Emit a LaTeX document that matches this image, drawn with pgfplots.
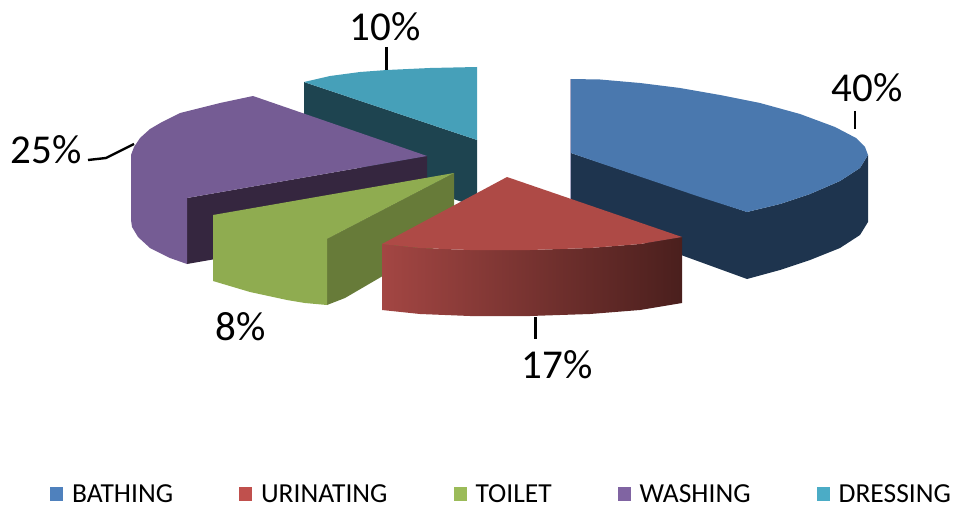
\documentclass[border=0pt]{standalone}
\usepackage{fontspec}
\setmainfont{Carlito}
\usepackage{pgfplots}
\pgfplotsset{compat=1.18}
\definecolor{blueT}{HTML}{4A78AE}
\definecolor{blueS}{HTML}{1E344E}
\definecolor{redT}{HTML}{AE4A46}
\definecolor{redL}{HTML}{A34643}
\definecolor{redR}{HTML}{4A1F1D}
\definecolor{greenT}{HTML}{8FAC50}
\definecolor{greenS}{HTML}{677B39}
\definecolor{purT}{HTML}{755C94}
\definecolor{purS}{HTML}{35263F}
\definecolor{tealT}{HTML}{46A0B9}
\definecolor{tealS}{HTML}{1E4450}
\definecolor{lgB}{RGB}{79,129,189}
\definecolor{lgR}{RGB}{192,80,77}
\definecolor{lgG}{RGB}{155,187,89}
\definecolor{lgP}{RGB}{128,100,162}
\definecolor{lgT}{RGB}{75,172,198}
\begin{document}
\begin{tikzpicture}
\begin{axis}[
  at={(0pt,0pt)}, anchor=south west,
  scale only axis, width=957pt, height=508pt,
  xmin=0, xmax=957, ymin=0, ymax=508, y dir=reverse,
  hide axis, clip=false,
  legend columns=5,
  legend cell align=left,
  legend style={at={(axis cs:501.5,494)}, anchor=center, draw=none, fill=none,
    inner sep=0pt, outer sep=0pt, font=\fontsize{27.5}{30}\selectfont,
    /tikz/every odd column/.append style={column sep=7pt},
    /tikz/every even column/.append style={column sep=64pt}},
  legend image code/.code={\fill[draw=none,#1] (0pt,-7pt) rectangle (13pt,7pt);},
]
% teal
\addplot[fill=tealS,draw=none,forget plot] coordinates {(304,82)(477,140)(477,207)(304,148)} --cycle;
\addplot[fill=tealT,draw=none,forget plot] coordinates {(304,82)(330,76)(360,72)(387,70)(430,68)(477,67)(477,140)} --cycle;
% purple
\addplot[fill=purS,draw=none,forget plot] coordinates {(187,198)(427,156)(427,222)(187,264)} --cycle;
\addplot[fill=purT,draw=none,forget plot] coordinates {(253,96)(427,156)(187,198)(187,264)(170,258)(150,248)(138,237)(132,227)(131,220)(131,155)(134,147)(140,138)(150,129)(162,122)(180,113)(200,108)(220,103)} --cycle;
% green
\addplot[fill=greenS,draw=none,forget plot] coordinates {(454,173)(327,239)(327,305)(345,298)(381,277)(454,237)} --cycle;
\addplot[fill=greenT,draw=none,forget plot] coordinates {(454,173)(327,239)(327,305)(305,303)(287,300)(250,292)(213,281)(213,215)} --cycle;
% blue
\addplot[draw=blue!20!gray!55,line width=1.2pt,forget plot] coordinates {(570.5,79)(570.5,215)};
\addplot[fill=blueS,draw=none,forget plot] coordinates {(571,153)(747,212)(780,204)(810,194)(840,181)(860,168)(868,155)(868,222)(860,235)(840,248)(810,260)(780,270)(747,279)(571,215)} --cycle;
\addplot[fill=blueT,draw=none,forget plot] coordinates {(571,79)(600,79.5)(640,83)(680,88)(720,95)(760,103)(800,114)(835,127)(856,138)(865,147)(868,155)(860,168)(840,181)(810,194)(780,204)(747,212)(700,197)(650,180)(600,163)(571,153)} --cycle;
% red
\addplot[left color=redL,right color=redR,draw=none,forget plot] coordinates {(382,244)(420,248)(470,250)(530,250)(590,248)(640,244)(682,237)(682,303)(640,310)(590,314)(530,316)(470,316)(420,314)(382,310)} --cycle;
\addplot[fill=redT,draw=none,forget plot] coordinates {(507,177)(682,237)(640,244)(590,248)(530,250)(470,250)(420,248)(382,244)} --cycle;
% leader lines
\addplot[black,line width=2.6pt,forget plot] coordinates {(855,111)(855,129)};
\addplot[black,line width=2.6pt,forget plot] coordinates {(535.5,317)(535.5,339)};
\addplot[black,line width=2.6pt,forget plot] coordinates {(386.5,47)(386.5,70)};
\addplot[black,line width=2.4pt,forget plot] coordinates {(88,160)(106,158)(134,144)};
% legend
\addlegendimage{fill=lgB}
\addlegendentry{BATHING}
\addlegendimage{fill=lgR}
\addlegendentry{URINATING}
\addlegendimage{fill=lgG}
\addlegendentry{TOILET}
\addlegendimage{fill=lgP}
\addlegendentry{WASHING}
\addlegendimage{fill=lgT}
\addlegendentry{DRESSING}
% labels
\node[font=\fontsize{41}{44}\selectfont,inner sep=0pt] at (axis cs:867,88) {40\%};
\node[font=\fontsize{41}{44}\selectfont,inner sep=0pt] at (axis cs:557,365) {17\%};
\node[font=\fontsize{41}{44}\selectfont,inner sep=0pt] at (axis cs:241,327) {8\%};
\node[font=\fontsize{41}{44}\selectfont,inner sep=0pt] at (axis cs:46,150) {25\%};
\node[font=\fontsize{41}{44}\selectfont,inner sep=0pt] at (axis cs:385,27) {10\%};
\end{axis}
\pgfresetboundingbox
\path[use as bounding box] (0pt,0pt) rectangle (957pt,508pt);
\end{tikzpicture}
\end{document}
